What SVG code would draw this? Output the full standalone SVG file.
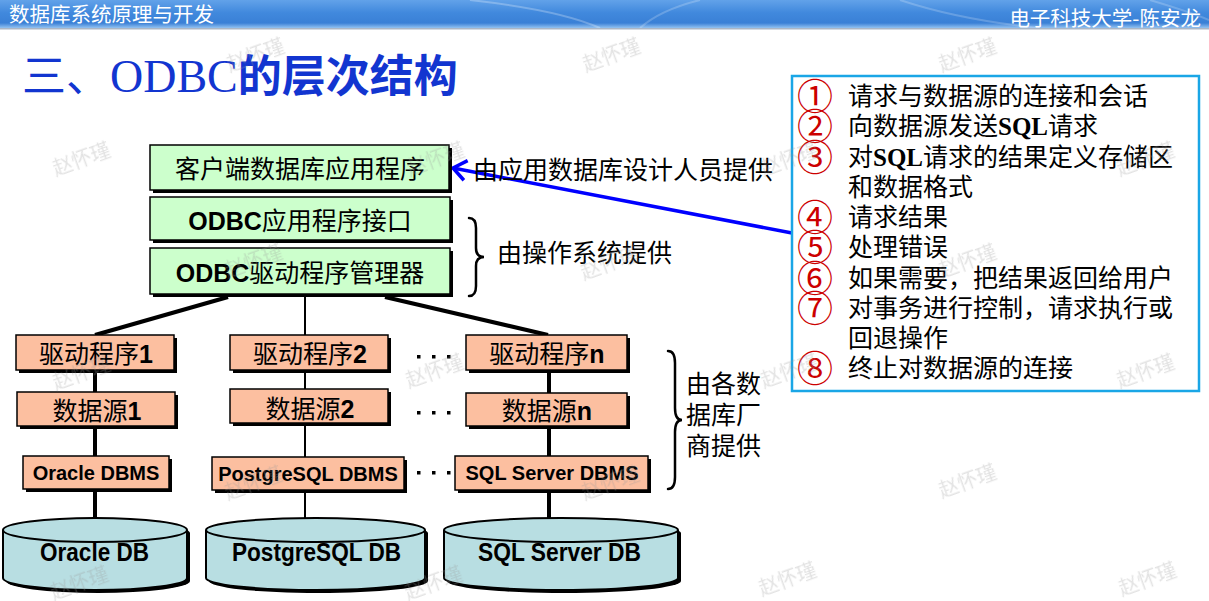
<svg xmlns="http://www.w3.org/2000/svg" width="1209" height="601" viewBox="0 0 1209 601">
<defs>
<linearGradient id="hdr" x1="0" y1="0" x2="0" y2="1">
<stop offset="0" stop-color="#62a2e9"/>
<stop offset="0.45" stop-color="#4189dd"/>
<stop offset="0.82" stop-color="#3a80d6"/>
<stop offset="1" stop-color="#93c2f1"/>
</linearGradient>
<marker id="arr" viewBox="-16 -13 19 26" refX="0" refY="0" markerWidth="19" markerHeight="26" markerUnits="userSpaceOnUse" orient="auto">
<path d="M-13,-10 L0,0 L-13,10" fill="none" stroke="#0000ff" stroke-width="3.5" stroke-linejoin="miter"/>
</marker>
<style>
.hdrt{font-family:"Noto Sans CJK SC",sans-serif;font-size:20.5px;fill:#ffffff;}
.t25{font-family:"Liberation Sans","Noto Sans CJK SC",sans-serif;font-size:25px;fill:#000;}
.t20b{font-family:"Liberation Sans","Noto Sans CJK SC",sans-serif;font-size:20px;font-weight:bold;fill:#000;}
.db{font-family:"Liberation Sans",sans-serif;font-size:25px;font-weight:bold;fill:#000;}
.b{font-weight:bold;}
.sh{fill:#000;}
.gbox{fill:#ccffcc;stroke:#000;stroke-width:1.5;}
.obox{fill:#fcbfa0;stroke:#000;stroke-width:1.5;}
.cyl{fill:#b8dee2;stroke:#000;stroke-width:2;}
.conn{stroke:#000;fill:none;}
.brace{stroke:#000;fill:none;stroke-width:2.5;stroke-linecap:round;}
.lst{font-family:"Liberation Serif","Noto Sans CJK SC",serif;font-size:25px;fill:#000;}
.num{font-family:"Noto Sans CJK SC",sans-serif;font-size:36px;fill:#cc0000;}
.sq{font-family:"Liberation Serif",serif;font-weight:bold;}
.wm{font-family:"Noto Sans CJK SC",sans-serif;font-size:20px;fill:#9a9a9a;opacity:0.28;}
</style>
</defs>
<rect x="0" y="0" width="1209" height="601" fill="#ffffff"/>
<!-- header -->
<g id="header">
<rect x="0" y="0" width="1209" height="28" fill="url(#hdr)"/>
<path d="M470,0 Q560,10 600,28" fill="none" stroke="#ffffff" stroke-opacity="0.25" stroke-width="2"/>
<path d="M640,28 Q660,10 700,0" fill="none" stroke="#ffffff" stroke-opacity="0.2" stroke-width="2"/>
<path d="M900,0 Q960,20 1040,28" fill="none" stroke="#ffffff" stroke-opacity="0.2" stroke-width="2"/>
<path d="M1150,0 Q1190,12 1209,20" fill="none" stroke="#ffffff" stroke-opacity="0.2" stroke-width="2"/>
<rect x="0" y="28" width="1209" height="1.5" fill="#aab6c6"/>
<text class="hdrt" x="9" y="21.5">数据库系统原理与开发</text>
<text class="hdrt" x="1201" y="26" text-anchor="end">电子科技大学-陈安龙</text>
</g>
<!-- title -->
<text x="22" y="92" font-size="44" fill="#1235d0" font-family="'Noto Sans CJK SC',sans-serif">三、<tspan font-family="'Liberation Serif',serif" font-size="46">ODBC</tspan><tspan font-weight="bold">的层次结构</tspan></text>
<!-- connectors -->
<g id="connectors">
<line class="conn" stroke-width="4" x1="228" y1="297" x2="95" y2="335"/>
<line class="conn" stroke-width="2" x1="305" y1="297" x2="305" y2="335"/>
<line class="conn" stroke-width="4" x1="385" y1="297" x2="548" y2="335"/>
<line class="conn" stroke-width="4" x1="95" y1="373" x2="95" y2="392"/>
<line class="conn" stroke-width="4" x1="95" y1="429" x2="95" y2="456"/>
<line class="conn" stroke-width="4" x1="95" y1="492" x2="95" y2="519"/>
<line class="conn" stroke-width="2" x1="305" y1="373" x2="305" y2="389"/>
<line class="conn" stroke-width="2" x1="305" y1="426" x2="305" y2="457"/>
<line class="conn" stroke-width="2" x1="305" y1="493" x2="305" y2="519"/>
<line class="conn" stroke-width="4" x1="549" y1="373" x2="549" y2="393"/>
<line class="conn" stroke-width="4" x1="549" y1="429" x2="549" y2="456"/>
<line class="conn" stroke-width="4" x1="549" y1="493" x2="549" y2="519"/>
<line x1="792" y1="233" x2="453" y2="168" stroke="#0000ff" stroke-width="3.5" marker-end="url(#arr)"/>
</g>
<!-- green layers -->
<g id="n-client">
<rect class="sh" x="153" y="148" width="299" height="45"/>
<rect class="gbox" x="150" y="145" width="299" height="45"/>
<text class="t25" x="300" y="178" text-anchor="middle">客户端数据库应用程序</text>
</g>
<g id="n-api">
<rect class="sh" x="153" y="200" width="300" height="43"/>
<rect class="gbox" x="150" y="197" width="300" height="43"/>
<text class="t25" x="300" y="230" text-anchor="middle"><tspan class="b">ODBC</tspan>应用程序接口</text>
</g>
<g id="n-manager">
<rect class="sh" x="153" y="251" width="300" height="46"/>
<rect class="gbox" x="150" y="248" width="300" height="46"/>
<text class="t25" x="300" y="282" text-anchor="middle"><tspan class="b">ODBC</tspan>驱动程序管理器</text>
</g>
<!-- orange boxes -->
<g id="n-driver1">
<rect class="sh" x="19" y="338" width="158" height="35"/>
<rect class="obox" x="16" y="335" width="158" height="35"/>
<text class="t25" x="96" y="363" text-anchor="middle">驱动程序<tspan class="b">1</tspan></text>
</g>
<g id="n-ds1">
<rect class="sh" x="20" y="395" width="158" height="34"/>
<rect class="obox" x="17" y="392" width="158" height="34"/>
<text class="t25" x="97" y="420" text-anchor="middle">数据源<tspan class="b">1</tspan></text>
</g>
<g id="n-dbms1">
<rect class="sh" x="26" y="459" width="146" height="33"/>
<rect class="obox" x="23" y="456" width="146" height="33"/>
<text class="t20b" x="96" y="480" text-anchor="middle">Oracle DBMS</text>
</g>
<g id="n-driver2">
<rect class="sh" x="233" y="338" width="158" height="35"/>
<rect class="obox" x="230" y="335" width="158" height="35"/>
<text class="t25" x="310" y="363" text-anchor="middle">驱动程序<tspan class="b">2</tspan></text>
</g>
<g id="n-ds2">
<rect class="sh" x="233" y="392" width="158" height="34"/>
<rect class="obox" x="230" y="389" width="158" height="34"/>
<text class="t25" x="310" y="418" text-anchor="middle">数据源<tspan class="b">2</tspan></text>
</g>
<g id="n-dbms2">
<rect class="sh" x="215" y="460" width="192" height="33"/>
<rect class="obox" x="212" y="457" width="192" height="33"/>
<text class="t20b" x="308" y="481" text-anchor="middle">PostgreSQL DBMS</text>
</g>
<g id="n-drivern">
<rect class="sh" x="469" y="338" width="161" height="35"/>
<rect class="obox" x="466" y="335" width="161" height="35"/>
<text class="t25" x="547" y="363" text-anchor="middle">驱动程序<tspan class="b">n</tspan></text>
</g>
<g id="n-dsn">
<rect class="sh" x="469" y="396" width="161" height="33"/>
<rect class="obox" x="466" y="393" width="161" height="33"/>
<text class="t25" x="547" y="420" text-anchor="middle">数据源<tspan class="b">n</tspan></text>
</g>
<g id="n-dbmsn">
<rect class="sh" x="458" y="459" width="193" height="34"/>
<rect class="obox" x="455" y="456" width="193" height="34"/>
<text class="t20b" x="552" y="480" text-anchor="middle">SQL Server DBMS</text>
</g>
<!-- ellipsis dots -->
<g id="dots" fill="#000">
<rect x="417" y="355" width="3.5" height="3.5"/><rect x="432" y="355" width="3.5" height="3.5"/><rect x="447" y="355" width="3.5" height="3.5"/>
<rect x="417" y="411" width="3.5" height="3.5"/><rect x="432" y="411" width="3.5" height="3.5"/><rect x="447" y="411" width="3.5" height="3.5"/>
<rect x="417" y="471" width="3.5" height="3.5"/><rect x="432" y="471" width="3.5" height="3.5"/><rect x="447" y="471" width="3.5" height="3.5"/>
</g>
<!-- databases -->
<g id="n-oracledb">
<path class="sh" d="M6,533 L6,581 A92,12 0 0 0 190,581 L190,533 A92,12 0 0 0 6,533 Z"/>
<path class="cyl" d="M3,530 L3,578 A92,12 0 0 0 187,578 L187,530 A92,12 0 0 0 3,530 Z"/>
<path class="cyl" fill="none" d="M3,530 A92,12 0 0 0 187,530"/>
<text class="db" x="40" y="561" textLength="109" lengthAdjust="spacingAndGlyphs">Oracle DB</text>
</g>
<g id="n-pgdb">
<path class="sh" d="M209,533 L209,581 A109.5,12 0 0 0 428,581 L428,533 A109.5,12 0 0 0 209,533 Z"/>
<path class="cyl" d="M206,530 L206,578 A109.5,12 0 0 0 425,578 L425,530 A109.5,12 0 0 0 206,530 Z"/>
<path class="cyl" fill="none" d="M206,530 A109.5,12 0 0 0 425,530"/>
<text class="db" x="232" y="561" textLength="169" lengthAdjust="spacingAndGlyphs">PostgreSQL DB</text>
</g>
<g id="n-sqldb">
<path class="sh" d="M447,533 L447,581 A117,12 0 0 0 681,581 L681,533 A117,12 0 0 0 447,533 Z"/>
<path class="cyl" d="M444,530 L444,578 A117,12 0 0 0 678,578 L678,530 A117,12 0 0 0 444,530 Z"/>
<path class="cyl" fill="none" d="M444,530 A117,12 0 0 0 678,530"/>
<text class="db" x="478" y="561" textLength="163" lengthAdjust="spacingAndGlyphs">SQL Server DB</text>
</g>
<!-- annotations -->
<g id="n-note-app">
<text class="t25" x="473" y="179">由应用数据库设计人员提供</text>
</g>
<g id="n-note-os">
<path class="brace" d="M469,218 Q476,218 476,228 L476,248 Q476,257 484,257 Q476,257 476,266 L476,286 Q476,296 469,296"/>
<text class="t25" x="497" y="262">由操作系统提供</text>
</g>
<g id="n-note-vendor">
<path class="brace" d="M668,351 Q675,351 675,363 L675,408 Q675,420 682,420 Q675,420 675,432 L675,477 Q675,489 668,489"/>
<text class="t25" x="686" y="393">由各数</text>
<text class="t25" x="686" y="424">据库厂</text>
<text class="t25" x="686" y="455">商提供</text>
</g>
<!-- steps box -->
<g id="n-steps">
<rect x="792" y="76" width="407" height="315" fill="#ffffff" stroke="#1aa6e6" stroke-width="2.5"/>
<text class="num" x="797" y="110">①</text>
<text class="lst" x="848" y="105">请求与数据源的连接和会话</text>
<text class="num" x="797" y="140">②</text>
<text class="lst" x="848" y="135">向数据源发送<tspan class="sq">SQL</tspan>请求</text>
<text class="num" x="797" y="171">③</text>
<text class="lst" x="848" y="166">对<tspan class="sq">SQL</tspan>请求的结果定义存储区</text>
<text class="lst" x="848" y="196">和数据格式</text>
<text class="num" x="797" y="231">④</text>
<text class="lst" x="848" y="226">请求结果</text>
<text class="num" x="797" y="261">⑤</text>
<text class="lst" x="848" y="256">处理错误</text>
<text class="num" x="797" y="292">⑥</text>
<text class="lst" x="848" y="287">如果需要，把结果返回给用户</text>
<text class="num" x="797" y="322">⑦</text>
<text class="lst" x="848" y="317">对事务进行控制，请求执行或</text>
<text class="lst" x="848" y="347">回退操作</text>
<text class="num" x="797" y="382">⑧</text>
<text class="lst" x="848" y="377">终止对数据源的连接</text>
</g>
<!-- watermarks -->
<g id="watermarks" class="wm" text-anchor="middle">
<text transform="translate(258,62) rotate(-20)">赵怀瑾</text>
<text transform="translate(614,62) rotate(-20)">赵怀瑾</text>
<text transform="translate(970,62) rotate(-20)">赵怀瑾</text>
<text transform="translate(84,166) rotate(-20)">赵怀瑾</text>
<text transform="translate(438,166) rotate(-20)">赵怀瑾</text>
<text transform="translate(792,166) rotate(-20)">赵怀瑾</text>
<text transform="translate(1148,166) rotate(-20)">赵怀瑾</text>
<text transform="translate(256,268) rotate(-20)">赵怀瑾</text>
<text transform="translate(612,270) rotate(-20)">赵怀瑾</text>
<text transform="translate(970,268) rotate(-20)">赵怀瑾</text>
<text transform="translate(84,380) rotate(-20)">赵怀瑾</text>
<text transform="translate(437,378) rotate(-20)">赵怀瑾</text>
<text transform="translate(792,378) rotate(-20)">赵怀瑾</text>
<text transform="translate(1148,378) rotate(-20)">赵怀瑾</text>
<text transform="translate(256,490) rotate(-20)">赵怀瑾</text>
<text transform="translate(613,490) rotate(-20)">赵怀瑾</text>
<text transform="translate(970,488) rotate(-20)">赵怀瑾</text>
<text transform="translate(82,590) rotate(-20)">赵怀瑾</text>
<text transform="translate(436,590) rotate(-20)">赵怀瑾</text>
<text transform="translate(790,586) rotate(-20)">赵怀瑾</text>
<text transform="translate(1150,586) rotate(-20)">赵怀瑾</text>
</g>
</svg>
